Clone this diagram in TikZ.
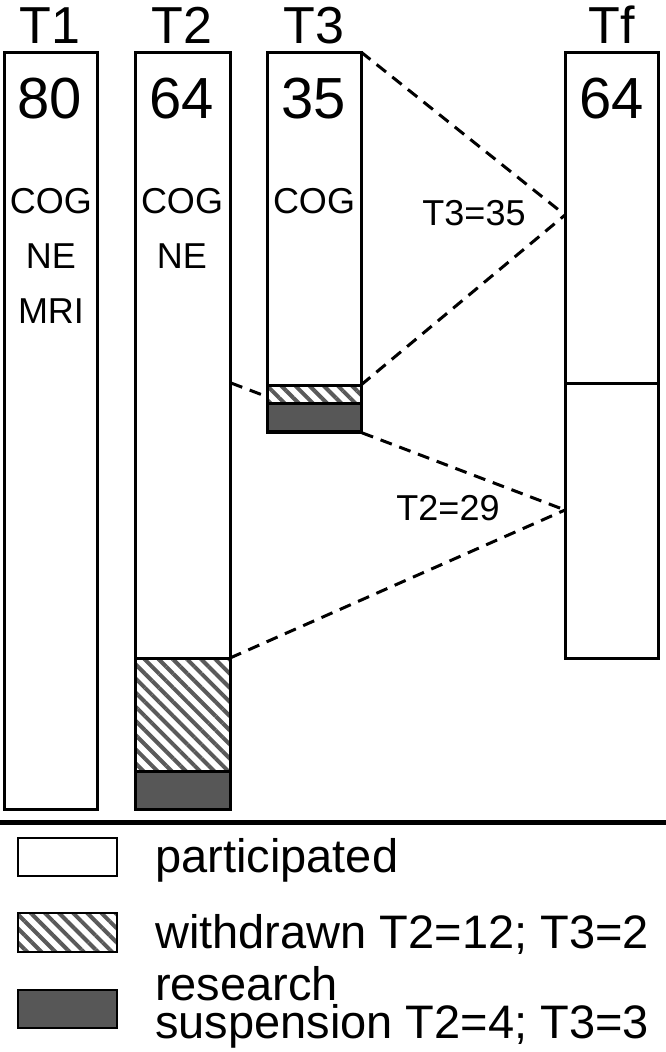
\documentclass[tikz,border=0pt]{standalone}
\usepackage{fontspec}
\setmainfont{Liberation Sans}
\usetikzlibrary{patterns.meta}
\definecolor{darkfill}{HTML}{575757}
\definecolor{hatchcol}{HTML}{5A5A5A}
\begin{document}
\begin{tikzpicture}[x=1pt,y=-1pt,
  bar/.style={draw=black, line width=3pt, fill=white, anchor=north west, inner sep=0pt, outer sep=0pt},
  hatch/.style={draw=black, line width=3pt, anchor=north west, inner sep=0pt, outer sep=0pt,
     pattern={Lines[angle=-45,distance=10pt,line width=4pt]}, pattern color=hatchcol},
  dark/.style={draw=black, line width=3pt, fill=darkfill, anchor=north west, inner sep=0pt, outer sep=0pt},
  head/.style={font=\fontsize{52}{52}\selectfont, inner sep=0pt, anchor=base},
  num/.style={font=\fontsize{58}{58}\selectfont, inner sep=0pt, anchor=base},
  lab/.style={font=\fontsize{36}{36}\selectfont, inner sep=0pt, anchor=base},
  leg/.style={font=\fontsize{47}{38}\selectfont, inner sep=0pt, anchor=base west, align=left},
  conn/.style={dashed, line width=3pt, dash pattern=on 12pt off 8pt}
]
\useasboundingbox (0,0) rectangle (666,1052);

\coordinate (tfu) at (565,215);
\coordinate (tfl) at (565,510);
\coordinate (t2a) at (231,383);

% Bars
\node[bar, minimum width=93pt, minimum height=757pt] (t1) at (4,52) {};
\node[bar, minimum width=95pt, minimum height=757pt] (t2) at (135,52) {};
\node[hatch, minimum width=95pt, minimum height=113pt] (t2w) at (135,658) {};
\node[dark, minimum width=95pt, minimum height=38pt] (t2s) at (135,771) {};

\draw[conn] (t2a) -- (tfl);

\node[bar, minimum width=94pt, minimum height=380pt] (t3) at (267,52) {};
\node[hatch, minimum width=94pt, minimum height=18pt] (t3w) at (267,385) {};
\node[dark, minimum width=94pt, minimum height=28pt] (t3s) at (267,403) {};

\node[bar, minimum width=93pt, minimum height=331pt] (tfa) at (565,52) {};
\node[bar, minimum width=93pt, minimum height=275pt] (tfb) at (565,383) {};

\draw[conn] (t3.north east) -- (tfu);
\draw[conn] (t3w.north east) -- (tfu);
\draw[conn] (t2w.north east) -- (tfl);

% headers
\node[head] (h1) at (50,43) {T1};
\node[head] (h2) at (182,43) {T2};
\node[head] (h3) at (314,43) {T3};
\node[head] (hf) at (612,43) {Tf};

% numbers
\node[num] (n1) at (50,118) {80};
\node[num] (n2) at (182,118) {64};
\node[num] (n3) at (314,118) {35};
\node[num] (nf) at (612,118) {64};

% measures
\node[lab] (c1) at (51,213) {COG};
\node[lab] (e1) at (51,268) {NE};
\node[lab] (m1) at (51,323) {MRI};
\node[lab] (c2) at (182,213) {COG};
\node[lab] (e2) at (182,268) {NE};
\node[lab] (c3) at (314,213) {COG};

\node[lab] (l3) at (474,225) {T3=35};
\node[lab] (l2) at (448,520) {T2=29};

% rule
\draw[line width=5pt] (0,822) -- (666,822);

% legend
\node[bar, line width=2.5pt, minimum width=99pt, minimum height=38pt] (k1) at (18,838) {};
\node[hatch, line width=2.5pt, minimum width=99pt, minimum height=39pt] (k2) at (18,913) {};
\node[dark, line width=2.5pt, minimum width=99pt, minimum height=38pt] (k3) at (18,990) {};

\node[leg] (k1t) at (155,872) {participated};
\node[leg] (k2t) at (155,948) {withdrawn T2=12; T3=2};
\node[leg] (k3t) at (155,1038) {research\\suspension T2=4; T3=3};
\end{tikzpicture}
\end{document}
